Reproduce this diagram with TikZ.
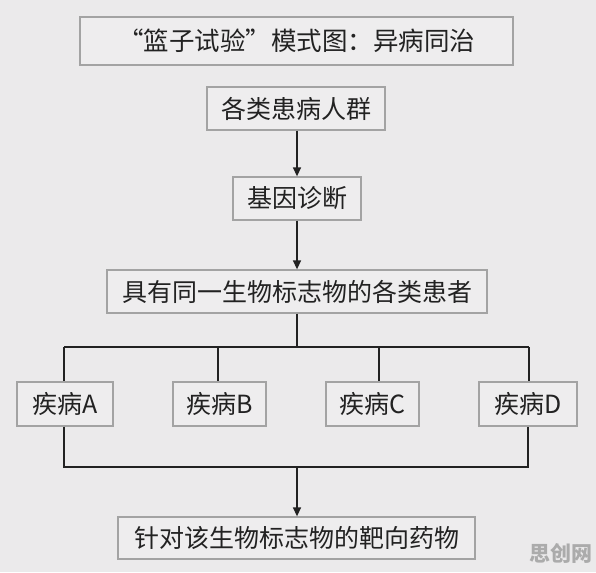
\documentclass[tikz,border=0pt]{standalone}
\usepackage{fontspec}
\setmainfont{Noto Sans CJK SC}
\usetikzlibrary{arrows.meta}
\definecolor{bg}{HTML}{EBEAEB}
\definecolor{boxfill}{HTML}{EEEDEE}
\definecolor{boxline}{HTML}{A3A3A3}
\definecolor{ink}{HTML}{222222}
\definecolor{wm}{HTML}{ABABAB}
\tikzset{
  x=1pt, y=-1pt,
  box/.style={draw=boxline, line width=1.3pt, fill=boxfill, inner sep=0pt, text=ink,
              font=\fontsize{25}{27}\selectfont},
  link/.style={draw=ink, line width=1.4pt},
  arrowlink/.style={link, -{Triangle[width=8pt,length=9pt]}},
}
\begin{document}
\begin{tikzpicture}
\fill[bg] (0,0) rectangle (596,572);
\useasboundingbox (0,0) rectangle (596,572);
\node[box, minimum width=433pt, minimum height=48pt, font=\fontsize{25.5}{28}\selectfont] (title) at (296.5,41) {“篮子试验”模式图：异病同治};
\node[box, minimum width=178pt, minimum height=43pt] (pop) at (296,108.5) {各类患病人群};
\node[box, minimum width=128pt, minimum height=43pt] (diag) at (297,198.5) {基因诊断};
\node[box, minimum width=380pt, minimum height=43pt] (pat) at (297,291.5) {具有同一生物标志物的各类患者};
\node[box, minimum width=96pt, minimum height=44pt] (A) at (65,404) {疾病A};
\node[box, minimum width=93pt, minimum height=44pt] (B) at (219.5,404) {疾病B};
\node[box, minimum width=93pt, minimum height=44pt] (C) at (372.5,404) {疾病C};
\node[box, minimum width=98pt, minimum height=44pt] (D) at (528,404) {疾病D};
\node[box, minimum width=357pt, minimum height=42pt] (drug) at (296.5,538) {针对该生物标志物的靶向药物};
\node[text=wm, font=\bfseries\fontsize{21}{22}\selectfont, inner sep=0pt] (wmark) at (561,553) {思创网};

\draw[arrowlink] (pop.south -| 297,0) -- (diag.north -| 297,0);
\draw[arrowlink] (diag.south -| 297,0) -- (pat.north -| 297,0);

\coordinate (ja) at (64,347);
\coordinate (jb) at (218,347);
\coordinate (jm) at (297,347);
\coordinate (jc) at (379,347);
\coordinate (jd) at (529,347);
\draw[link] (pat.south -| jm) -- (jm);
\draw[link] (ja) -- (jd);
\draw[link] (ja) -- (ja |- A.north);
\draw[link] (jb) -- (jb |- B.north);
\draw[link] (jc) -- (jc |- C.north);
\draw[link] (jd) -- (jd |- D.north);

\coordinate (ka) at (64,467);
\coordinate (km) at (297,467);
\coordinate (kd) at (528,467);
\draw[link] (ka |- A.south) -- (ka) -- (kd) -- (kd |- D.south);
\draw[arrowlink] (km) -- (drug.north -| km);
\end{tikzpicture}
\end{document}
